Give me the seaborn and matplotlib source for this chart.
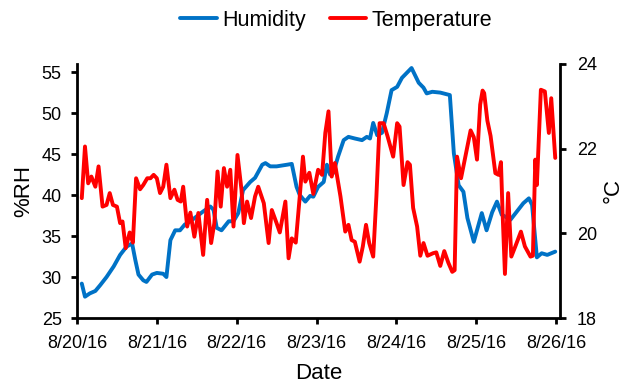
import numpy as np
import pandas as pd
import matplotlib
matplotlib.use("Agg")
import matplotlib.pyplot as plt
import seaborn as sns

# ---- data (days since 8/20/16 00:00) ----
hum_days = [0.06, 0.10, 0.16, 0.23, 0.29, 0.37, 0.46, 0.54, 0.62, 0.69, 0.73, 0.77, 0.83, 0.87, 0.94,
            1.00, 1.08, 1.12, 1.17, 1.23, 1.29, 1.35, 1.42, 1.50, 1.58, 1.67, 1.71, 1.75, 1.81, 1.90, 1.96,
            2.02, 2.08, 2.17, 2.23, 2.32, 2.36, 2.42, 2.50, 2.63, 2.69, 2.75, 2.79, 2.86, 2.92, 2.96,
            3.02, 3.09, 3.13, 3.17, 3.21, 3.27, 3.34, 3.40, 3.48, 3.57, 3.63, 3.67, 3.71, 3.76, 3.82, 3.88, 3.94,
            4.01, 4.07, 4.13, 4.19, 4.24, 4.28, 4.34, 4.38, 4.45, 4.55, 4.67, 4.72, 4.78, 4.84, 4.89, 4.97,
            5.01, 5.07, 5.13, 5.20, 5.26, 5.32, 5.43, 5.51, 5.59, 5.66, 5.70, 5.76, 5.82, 5.89, 5.99]
humidity = [29.2, 27.6, 28.0, 28.3, 29.0, 30.0, 31.3, 32.7, 33.7, 34.1, 32.1, 30.3, 29.6, 29.4, 30.3,
            30.5, 30.4, 30.0, 34.5, 35.7, 35.7, 36.4, 36.8, 37.4, 38.0, 38.6, 38.2, 36.0, 35.7, 36.8, 36.8,
            37.8, 40.6, 41.6, 42.1, 43.7, 43.9, 43.5, 43.5, 43.7, 43.8, 41.0, 40.0, 39.2, 39.9, 39.8,
            41.0, 41.6, 43.7, 42.5, 42.7, 44.7, 46.7, 47.1, 46.9, 46.7, 47.1, 46.9, 48.8, 47.3, 47.6, 50.0, 52.8,
            53.2, 54.3, 54.9, 55.5, 54.5, 53.7, 53.1, 52.4, 52.6, 52.5, 52.2, 45.1, 41.2, 40.4, 37.2, 34.3,
            35.7, 37.8, 35.7, 37.9, 39.2, 37.6, 37.0, 38.0, 39.0, 39.6, 38.8, 32.4, 32.9, 32.7, 33.1]

temp_days = [0.06, 0.10, 0.14, 0.18, 0.23, 0.27, 0.32, 0.37, 0.41, 0.45, 0.50, 0.54, 0.57, 0.61, 0.66, 0.70,
             0.74, 0.79, 0.83, 0.88, 0.92, 0.96, 1.00, 1.04, 1.08, 1.12, 1.17, 1.22, 1.26, 1.30, 1.33, 1.38,
             1.42, 1.47, 1.52, 1.58, 1.63, 1.68, 1.72, 1.76, 1.80, 1.84, 1.88, 1.92, 1.96, 2.01, 2.06, 2.09,
             2.13, 2.18, 2.23, 2.27, 2.34, 2.40, 2.44, 2.50, 2.54, 2.61, 2.65, 2.69, 2.74, 2.79, 2.83, 2.86,
             2.91, 2.96, 3.02, 3.07, 3.11, 3.15, 3.19, 3.23, 3.30, 3.36, 3.40, 3.44, 3.48, 3.54, 3.58, 3.62,
             3.66, 3.71, 3.75, 3.79, 3.84, 3.89, 3.96, 4.01, 4.04, 4.09, 4.14, 4.17, 4.21, 4.26, 4.30, 4.34,
             4.39, 4.46, 4.50, 4.55, 4.60, 4.65, 4.70, 4.73, 4.76, 4.81, 4.85, 4.89, 4.93, 4.97, 5.01, 5.05,
             5.08, 5.10, 5.14, 5.18, 5.24, 5.28, 5.31, 5.33, 5.36, 5.40, 5.44, 5.49, 5.56, 5.61, 5.68, 5.71,
             5.74, 5.76, 5.81, 5.86, 5.91, 5.94, 5.99]
temperature = [20.83, 22.05, 21.18, 21.34, 21.10, 21.58, 20.63, 20.67, 20.95, 20.67, 20.63, 20.24, 20.28, 19.65, 20.02, 19.78,
               21.30, 21.04, 21.14, 21.30, 21.30, 21.38, 21.30, 20.95, 21.10, 21.62, 20.83, 21.03, 20.79, 20.75, 21.10, 20.16,
               20.49, 19.92, 20.48, 19.49, 20.79, 19.77, 20.24, 21.46, 20.63, 21.54, 21.10, 21.50, 20.16, 21.85, 21.03, 20.24,
               20.75, 20.36, 20.87, 21.10, 20.71, 19.77, 20.55, 20.24, 20.02, 20.75, 19.41, 19.88, 19.78, 20.87, 21.81, 21.22,
               21.43, 20.93, 21.50, 21.38, 22.37, 22.88, 21.34, 21.66, 20.87, 20.04, 20.20, 19.84, 19.80, 19.33, 19.69, 20.20,
               19.77, 19.45, 20.87, 22.60, 22.60, 22.29, 21.81, 22.60, 22.52, 21.14, 21.68, 21.62, 20.60, 20.16, 19.47, 19.77,
               19.47, 19.53, 19.55, 19.23, 19.58, 19.31, 19.09, 19.13, 21.81, 21.30, 21.68, 22.05, 22.43, 22.27, 21.74, 23.04,
               23.37, 23.31, 22.66, 22.30, 21.42, 21.38, 21.68, 20.51, 19.04, 20.95, 19.45, 19.69, 20.04, 19.69, 19.45, 19.47,
               21.74, 21.14, 23.39, 23.35, 22.37, 23.19, 21.78]

tick_labels = ["8/20/16", "8/21/16", "8/22/16", "8/23/16", "8/24/16", "8/25/16", "8/26/16"]

base = pd.Timestamp("2016-08-20")
df_h = pd.DataFrame({"Date": base + pd.to_timedelta(hum_days, unit="D"), "Humidity": humidity})
df_t = pd.DataFrame({"Date": base + pd.to_timedelta(temp_days, unit="D"), "Temperature": temperature})

sns.set_style("ticks")
plt.rcParams["font.family"] = ["Liberation Sans", "DejaVu Sans"]
plt.rcParams["text.color"] = "black"
plt.rcParams["axes.labelcolor"] = "black"

BLUE = "#0072C6"
RED = "#FF0000"

fig, ax = plt.subplots(figsize=(6.26, 3.85), dpi=100)
fig.subplots_adjust(left=0.123, right=0.895, top=0.834, bottom=0.174)
ax2 = ax.twinx()

line_kw = dict(lw=2.8, solid_joinstyle="round", solid_capstyle="round")
sns.lineplot(data=df_h, x="Date", y="Humidity", ax=ax, color=BLUE, label="Humidity", legend=False, **line_kw)
sns.lineplot(data=df_t, x="Date", y="Temperature", ax=ax2, color=RED, label="Temperature", legend=False, **line_kw)
ax2.set_zorder(ax.get_zorder() + 1)
ax.patch.set_visible(False)

ax.set_ylim(25, 56)
ax.set_yticks([25, 30, 35, 40, 45, 50, 55])
ax2.set_ylim(18, 24)
ax2.set_yticks([18, 20, 22, 24])

ticks = [base + pd.Timedelta(days=i) for i in range(len(tick_labels))]
ax.set_xlim(base, base + pd.Timedelta(days=6.053))
ax.set_xticks(ticks)
ax.set_xticklabels(tick_labels)

for a in (ax, ax2):
    for s in a.spines.values():
        s.set_linewidth(2.0)
        s.set_color("black")
    a.spines["top"].set_visible(False)
    a.tick_params(axis="both", direction="out", length=4, width=2.0, labelsize=13,
                  colors="black", labelcolor="black")
ax.spines["right"].set_visible(False)
ax2.spines["left"].set_visible(False)
ax2.spines["bottom"].set_visible(False)
ax.tick_params(axis="x", pad=8)
ax.tick_params(axis="y", pad=7)
ax2.tick_params(axis="y", pad=8)

ax.set_xlabel("Date", fontsize=16, labelpad=8)
ax.set_ylabel("%RH", fontsize=16, labelpad=5)
ax2.set_ylabel("°C", fontsize=16, labelpad=4)

h1, l1 = ax.get_legend_handles_labels()
h2, l2 = ax2.get_legend_handles_labels()
fig.legend(h1 + h2, l1 + l2, loc="center", bbox_to_anchor=(0.537, 0.948), ncol=2, frameon=False,
           fontsize=15.5, handlelength=1.7, handletextpad=0.25, columnspacing=1.1)

fig.savefig("out.png", dpi=100)
